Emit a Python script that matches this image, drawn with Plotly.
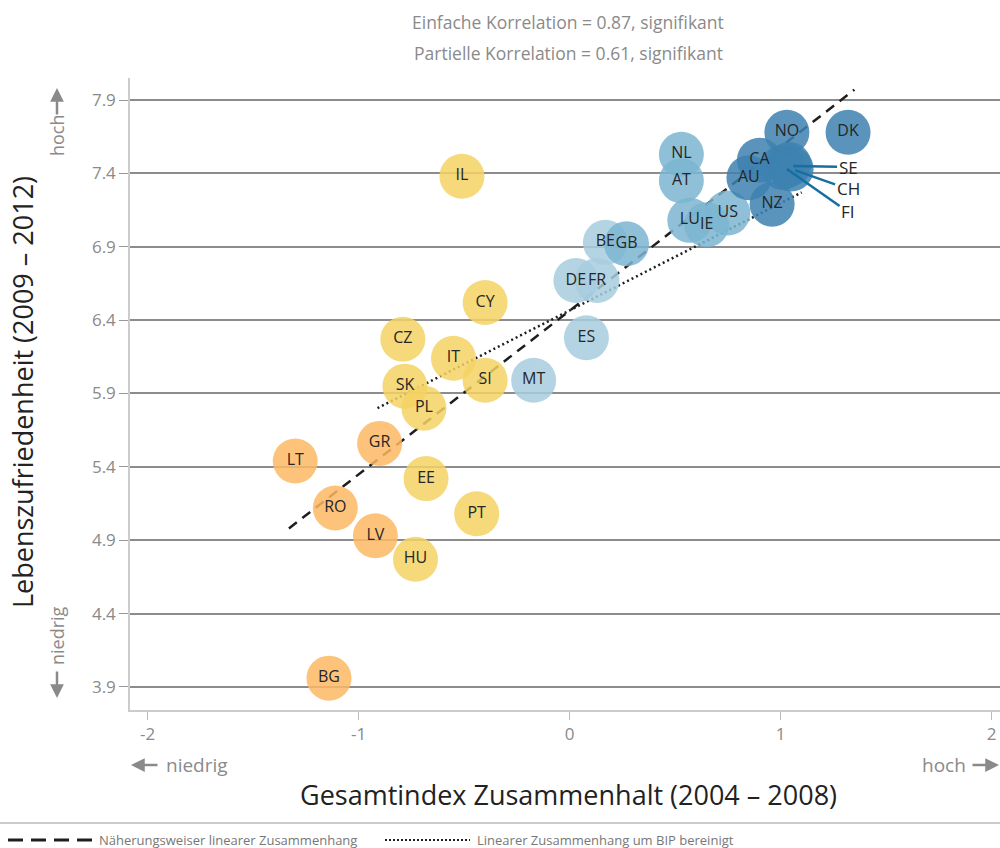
import plotly.graph_objects as go

# ---------------- data ----------------
countries = ["LT", "GR", "RO", "LV", "BG",
             "IL", "CY", "CZ", "IT", "SK", "SI", "PL", "EE", "PT", "HU",
             "BE", "DE", "FR", "ES", "MT",
             "GB", "NL", "AT", "LU", "IE", "US",
             "AU", "CA", "NZ", "NO", "DK", "FI", "SE", "CH"]
cohesion = [-1.30, -0.90, -1.11, -0.92, -1.14,
            -0.51, -0.40, -0.79, -0.55, -0.78, -0.40, -0.69, -0.68, -0.44, -0.73,
            0.17, 0.03, 0.13, 0.08, -0.17,
            0.27, 0.53, 0.53, 0.57, 0.65, 0.75,
            0.85, 0.90, 0.96, 1.03, 1.32, 1.01, 1.04, 1.05]
satisfaction = [5.44, 5.56, 5.12, 4.93, 3.96,
                7.38, 6.52, 6.27, 6.14, 5.95, 5.99, 5.80, 5.32, 5.08, 4.77,
                6.93, 6.67, 6.67, 6.28, 5.99,
                6.92, 7.53, 7.35, 7.08, 7.05, 7.13,
                7.37, 7.49, 7.19, 7.68, 7.68, 7.44, 7.46, 7.43]
group = ["g1"] * 5 + ["g2"] * 10 + ["g3"] * 5 + ["g4"] * 6 + ["g5"] * 8
inside_label = [c if c not in ("SE", "CH", "FI") else "" for c in countries]

group_colors = {
    "g1": "rgba(253,184,99,0.85)",
    "g2": "rgba(243,210,100,0.85)",
    "g3": "rgba(167,205,223,0.85)",
    "g4": "rgba(123,181,209,0.85)",
    "g5": "rgba(61,129,176,0.85)",
}

trend_x = [-1.33, 1.35]
trend_y = [4.98, 7.97]
gdp_x = [-0.91, 1.10]
gdp_y = [5.80, 7.27]

y_ticks = [3.9, 4.4, 4.9, 5.4, 5.9, 6.4, 6.9, 7.4, 7.9]
x_ticks = [-2, -1, 0, 1, 2]

callout_names = ["SE", "CH", "FI"]
callout_text_y = [7.443, 7.294, 7.137]

FONT = "Open Sans"

fig = go.Figure()

fig.add_trace(go.Scatter(x=trend_x, y=trend_y, mode="lines",
                         line=dict(color="#1e1e1e", width=2.5, dash="10px,7px"),
                         hoverinfo="skip", showlegend=False))
fig.add_trace(go.Scatter(x=gdp_x, y=gdp_y, mode="lines",
                         line=dict(color="#1e1e1e", width=2.5, dash="2px,3px"),
                         hoverinfo="skip", showlegend=False))

fig.add_trace(go.Scatter(
    x=cohesion, y=satisfaction, mode="markers+text",
    text=inside_label, textposition="middle center",
    textfont=dict(family=FONT, size=16, color="#262626"),
    marker=dict(size=45, color=[group_colors[g] for g in group], line=dict(width=0)),
    showlegend=False))

# callouts for SE / CH / FI
for name, ty in zip(callout_names, callout_text_y):
    i = countries.index(name)
    fig.add_annotation(x=cohesion[i] + 0.02, y=satisfaction[i] - 0.01, xref="x", yref="y",
                       ax=1.32, ay=ty, axref="x", ayref="y",
                       text=name, showarrow=True, arrowhead=0, arrowwidth=2.5,
                       arrowcolor="#15709f", standoff=0, startstandoff=0,
                       font=dict(family=FONT, size=17, color="#262626"))


def px(x):
    return (x - 130) / 870


def py(y):
    return (710 - y) / 632


GRAY = "#8a8a8a"


def label(xp, yp, text, size, color, angle=0, xanchor="center"):
    fig.add_annotation(x=px(xp), y=py(yp), xref="paper", yref="paper", showarrow=False,
                       xanchor=xanchor, yanchor="middle", text=text, textangle=angle,
                       font=dict(family=FONT, size=size, color=color))


def arrow(xp, yp, dx, dy):
    fig.add_annotation(x=px(xp), y=py(yp), xref="paper", yref="paper", ax=dx, ay=dy,
                       text="", showarrow=True, arrowhead=2, arrowsize=1.1, arrowwidth=2.5,
                       arrowcolor=GRAY)


# titles
label(568, 22, "Einfache Korrelation = 0.87, signifikant", 17.5, GRAY)
label(568, 53, "Partielle Korrelation = 0.61, signifikant", 17.5, GRAY)

# axis titles
label(22, 392, "Lebenszufriedenheit (2009 – 2012)", 27, "#222222", angle=-90)
label(568, 794, "Gesamtindex Zusammenhalt (2004 – 2008)", 27, "#222222")

# hoch / niedrig with arrows
label(57, 135, "hoch", 18, GRAY, angle=-90)
arrow(57, 88, 0, 28)
label(57, 636, "niedrig", 18, GRAY, angle=-90)
arrow(57, 698, 0, -28)
label(164, 765, "niedrig", 19, GRAY, xanchor="left")
arrow(131, 765, 28, 0)
label(968, 765, "hoch", 19, GRAY, xanchor="right")
arrow(999, 765, -28, 0)

# bottom legend
fig.add_shape(type="line", xref="paper", yref="paper", x0=px(0), x1=px(1000),
              y0=py(823), y1=py(823), line=dict(color="#999999", width=1))
fig.add_shape(type="line", xref="paper", yref="paper", x0=px(8), x1=px(92),
              y0=py(840), y1=py(840), line=dict(color="#1e1e1e", width=3, dash="15px,8px"))
label(97, 840, "Näherungsweiser linearer Zusammenhang", 13, "#777777", xanchor="left")
fig.add_shape(type="line", xref="paper", yref="paper", x0=px(385), x1=px(470),
              y0=py(840), y1=py(840), line=dict(color="#1e1e1e", width=2, dash="2px,2px"))
label(475, 840, "Linearer Zusammenhang um BIP bereinigt", 13, "#777777", xanchor="left")

fig.update_xaxes(range=[-2.083, 2.040], tickvals=x_ticks, ticktext=[str(v) for v in x_ticks],
                 showgrid=False, zeroline=False, showline=True, linecolor="#cccccc",
                 linewidth=1.5, ticks="outside", ticklen=8, tickcolor="#bbbbbb",
                 automargin=False,
                 tickfont=dict(family=FONT, size=17, color=GRAY))
fig.update_yaxes(range=[3.743, 8.05], tickvals=y_ticks, ticktext=[f"{v:.1f}" for v in y_ticks],
                 showgrid=True, gridcolor="#8c8c8c", gridwidth=2, zeroline=False,
                 showline=True, linecolor="#cccccc", linewidth=1.5, ticks="outside",
                 ticklen=9, tickcolor="#999999", automargin=False,
                 tickfont=dict(family=FONT, size=17, color=GRAY))

fig.update_layout(width=1000, height=848, margin=dict(l=130, r=0, t=78, b=138),
                  plot_bgcolor="white", paper_bgcolor="white", showlegend=False,
                  font=dict(family=FONT))

fig.write_html("out.html", config={"displayModeBar": False},
               post_script="document.body.style.margin='0';document.body.style.overflow='hidden';")
